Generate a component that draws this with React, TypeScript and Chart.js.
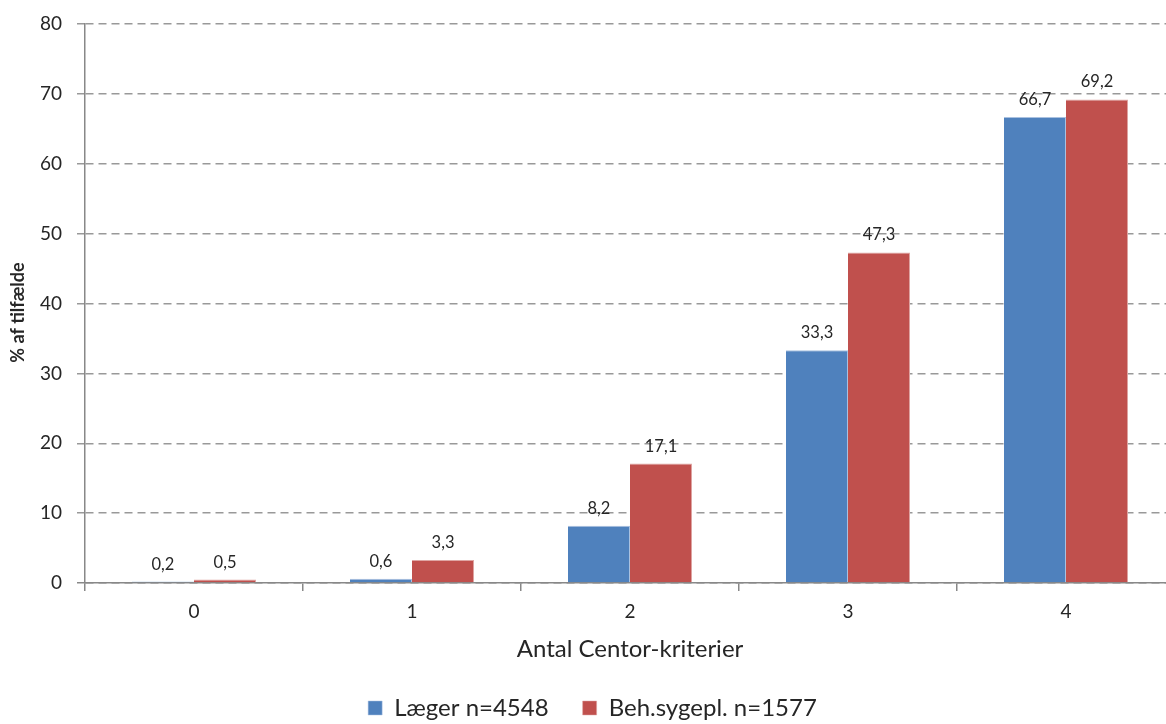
import React, { useEffect, useRef } from "react";
import { Chart, registerables } from "chart.js";

Chart.register(...registerables);

const categories = ["0", "1", "2", "3", "4"];
const laegerValues = [0.2, 0.6, 8.2, 33.3, 66.7];
const sygeplValues = [0.5, 3.3, 17.1, 47.3, 69.2];
const seriesNames = ["Læger n=4548", "Beh.sygepl. n=1577"];
const yTitle = "% af tilfælde";
const xTitle = "Antal Centor-kriterier";

const FONT = "Lato, 'Open Sans', sans-serif";
const TEXT = "#262626";

const valueLabels = {
  id: "valueLabels",
  afterLayout(chart: any) {
    const lg = chart.legend;
    if (lg) {
      lg.left += 5;
      lg.right += 5;
    }
  },
  afterDatasetsDraw(chart: any) {
    const ctx = chart.ctx;
    ctx.save();
    ctx.font = `16.5px ${FONT}`;
    ctx.fillStyle = TEXT;
    ctx.textAlign = "center";
    ctx.textBaseline = "alphabetic";
    chart.data.datasets.forEach((ds: any, di: number) => {
      const meta = chart.getDatasetMeta(di);
      meta.data.forEach((bar: any, i: number) => {
        const v = ds.data[i] as number;
        const txt = v.toFixed(1).replace(".", ",");
        ctx.fillText(txt, bar.x, bar.y - 12);
      });
    });
    ctx.restore();
  },
  afterDraw(chart: any) {
    const ctx = chart.ctx;
    const a = chart.chartArea;
    ctx.save();
    ctx.translate(18, (a.top + a.bottom) / 2 + 9);
    ctx.rotate(-Math.PI / 2);
    ctx.font = `bold 18px ${FONT}`;
    ctx.fillStyle = TEXT;
    ctx.textAlign = "center";
    ctx.textBaseline = "middle";
    ctx.fillText(yTitle, 0, 0);
    ctx.restore();
  },
};

export default function App() {
  const ref = useRef<HTMLCanvasElement | null>(null);
  useEffect(() => {
    if (!ref.current) return;
    const chart = new Chart(ref.current, {
      type: "bar",
      data: {
        labels: categories,
        datasets: [
          {
            label: seriesNames[0],
            data: laegerValues,
            backgroundColor: "#4F81BD",
            borderColor: "#A9C1E0",
            borderWidth: { top: 1, right: 1, left: 0, bottom: 0 },
          },
          {
            label: seriesNames[1],
            data: sygeplValues,
            backgroundColor: "#C0504D",
            borderColor: "#DFA6A4",
            borderWidth: { top: 1, right: 1, left: 0, bottom: 0 },
          },
        ],
      },
      options: {
        responsive: false,
        animation: false,
        layout: { autoPadding: false, padding: { top: 24, right: 0, left: 0, bottom: -6 } } as any,
        datasets: {
          bar: { categoryPercentage: 0.569, barPercentage: 1 },
        },
        plugins: {
          tooltip: { enabled: false },
          legend: {
            position: "bottom",
            labels: {
              font: { family: FONT, size: 24 },
              color: TEXT,
              boxWidth: 14,
              boxHeight: 14,
              padding: 34,
            },
          },
        },
        scales: {
          x: {
            afterFit: (s: any) => {
              s.height = 79;
            },
            grid: {
              offset: true,
              drawOnChartArea: false,
              color: "#888888",
              lineWidth: 1.5,
              tickLength: 8,
            },
            border: { color: "#888888", width: 1.5 },
            ticks: {
              font: { family: FONT, size: 19 },
              color: TEXT,
              padding: 9,
            },
            title: {
              display: true,
              text: xTitle,
              font: { family: FONT, size: 24 },
              color: TEXT,
              padding: { top: 0, bottom: -2 },
            },
          },
          y: {
            min: 0,
            max: 80,
            afterFit: (s: any) => {
              s.width = 85;
            },
            ticks: {
              stepSize: 10,
              font: { family: FONT, size: 19, lineHeight: 0.9 },
              color: TEXT,
              padding: 15,
            },
            grid: {
              color: (c: any) => (c.tick && c.tick.value === 0 ? "#888888" : "#999999"),
              lineWidth: 1.5,
              tickLength: 8,
              tickBorderDash: [8, 5],
            } as any,
            border: { color: "#888888", width: 1.5, dash: [8, 5] } as any,
          },
        },
      },
      plugins: [valueLabels],
    });
    return () => chart.destroy();
  }, []);
  return (
    <div style={{ position: "fixed", left: 0, top: 0, width: 1166, height: 724, overflow: "hidden", background: "#fff" }}>
      <canvas ref={ref} width={1175} height={724} />
    </div>
  );
}
